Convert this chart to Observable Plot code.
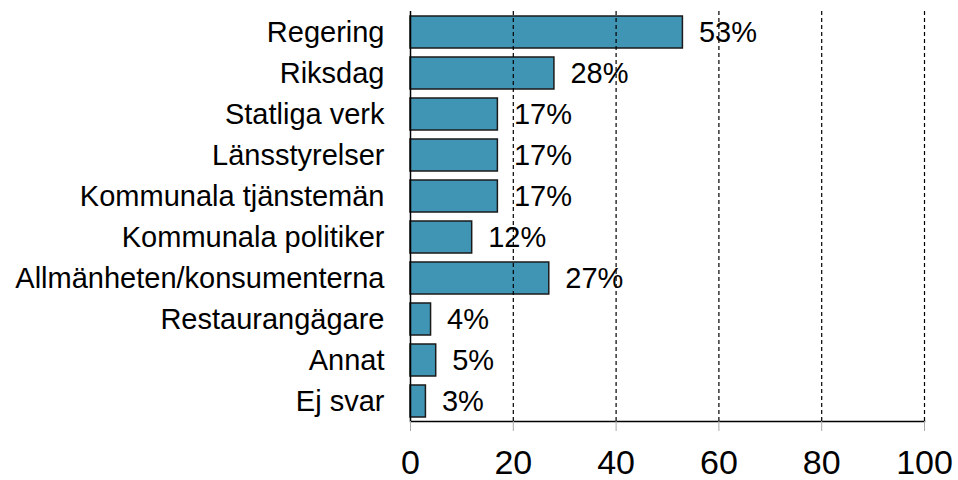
<!DOCTYPE html>
<html>
<head>
<meta charset="utf-8">
<script src="https://cdn.jsdelivr.net/npm/d3@7"></script>
<script src="https://cdn.jsdelivr.net/npm/@observablehq/plot@0.6"></script>
<style>
  html, body { margin: 0; padding: 0; background: white; }
  #chart svg { display: block; }
</style>
</head>
<body>
<div id="chart"></div>
<script>
const categories = ["Regering", "Riksdag", "Statliga verk", "Länsstyrelser", "Kommunala tjänstemän", "Kommunala politiker", "Allmänheten/konsumenterna", "Restaurangägare", "Annat", "Ej svar"];
const values = [53, 28, 17, 17, 17, 12, 27, 4, 5, 3];
const xTicks = [0, 20, 40, 60, 80, 100];
const gridTicks = [20, 40, 60, 80, 100];

const data = categories.map((c, i) => ({category: c, value: values[i], label: values[i] + "%"}));

const chart = Plot.plot({
  width: 958,
  height: 480,
  marginLeft: 410,
  marginRight: 34,
  marginTop: 11,
  marginBottom: 59,
  style: {fontFamily: "'Liberation Sans', Arial, sans-serif", background: "white", color: "black", overflow: "visible"},
  x: {domain: [0, 100]},
  y: {domain: categories, paddingInner: 0.22, paddingOuter: 0.11},
  marks: [
    Plot.barX(data, {x: "value", y: "category", fill: "#4095b5", stroke: "#1a1a1a", strokeWidth: 1.5}),
    Plot.text(data, {x: "value", y: "category", text: "label", textAnchor: "start", dx: 16, fontSize: 29, fill: "black"}),
    Plot.ruleX(gridTicks, {stroke: "black", strokeDasharray: "4,3", strokeWidth: 1.2}),
    Plot.ruleX([0], {stroke: "black", strokeWidth: 1.5}),
    Plot.frame({anchor: "bottom", stroke: "black", strokeWidth: 1.5}),
    Plot.axisX(xTicks, {tickSize: 10, tickPadding: 18, stroke: "#aaa", fill: "black", fontSize: 34, label: null}),
    Plot.axisY({tickSize: 0, tickPadding: 26, fontSize: 29, fill: "black", label: null})
  ]
});
document.getElementById("chart").appendChild(chart);
</script>
</body>
</html>
